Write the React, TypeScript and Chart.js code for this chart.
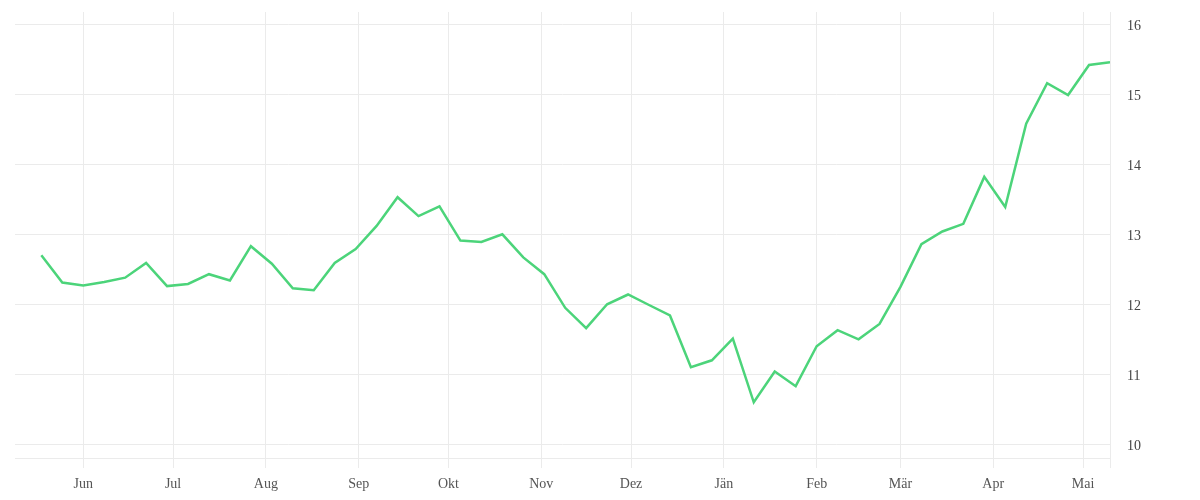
import React, { useEffect, useRef } from "react";
import { Chart, registerables } from "chart.js";

Chart.register(...registerables);

// Weekly observation dates
const dates: string[] = [
  "2022-05-18", "2022-05-25", "2022-06-01", "2022-06-08", "2022-06-15", "2022-06-22",
  "2022-06-29", "2022-07-06", "2022-07-13", "2022-07-20", "2022-07-27", "2022-08-03",
  "2022-08-10", "2022-08-17", "2022-08-24", "2022-08-31", "2022-09-07", "2022-09-14",
  "2022-09-21", "2022-09-28", "2022-10-05", "2022-10-12", "2022-10-19", "2022-10-26",
  "2022-11-02", "2022-11-09", "2022-11-16", "2022-11-23", "2022-11-30", "2022-12-07",
  "2022-12-14", "2022-12-21", "2022-12-28", "2023-01-04", "2023-01-11", "2023-01-18",
  "2023-01-25", "2023-02-01", "2023-02-08", "2023-02-15", "2023-02-22", "2023-03-01",
  "2023-03-08", "2023-03-15", "2023-03-22", "2023-03-29", "2023-04-05", "2023-04-12",
  "2023-04-19", "2023-04-26", "2023-05-03", "2023-05-10",
];

// Series values
const values: number[] = [
  12.70, 12.31, 12.27, 12.32, 12.38, 12.59, 12.26, 12.29, 12.43, 12.34,
  12.83, 12.58, 12.23, 12.20, 12.59, 12.79, 13.12, 13.53, 13.26, 13.40,
  12.91, 12.89, 13.00, 12.67, 12.43, 11.95, 11.66, 12.00, 12.14, 11.99,
  11.84, 11.10, 11.20, 11.51, 10.60, 11.04, 10.83, 11.40, 11.63, 11.50,
  11.72, 12.25, 12.86, 13.04, 13.15, 13.82, 13.39, 14.58, 15.16, 14.99,
  15.42, 15.46,
];

// X-axis month ticks
const monthTickDates: string[] = [
  "2022-06-01", "2022-07-01", "2022-08-01", "2022-09-01", "2022-10-01", "2022-11-01",
  "2022-12-01", "2023-01-01", "2023-02-01", "2023-03-01", "2023-04-01", "2023-05-01",
];
const monthTickLabels: string[] = [
  "Jun", "Jul", "Aug", "Sep", "Okt", "Nov", "Dez", "Jän", "Feb", "Mär", "Apr", "Mai",
];

// Y-axis ticks
const yTicks: number[] = [10, 11, 12, 13, 14, 15, 16];

const DAY = 86400000;
const toDay = (s: string) => Date.parse(s + "T00:00:00Z") / DAY;

export default function App() {
  const ref = useRef<HTMLCanvasElement | null>(null);

  useEffect(() => {
    if (!ref.current) return;
    const points = dates.map((d, i) => ({ x: toDay(d), y: values[i] }));
    const monthDays = monthTickDates.map(toDay);
    const xMin = points[0].x - 8.8;
    const xMax = points[points.length - 1].x;
    const gridColor = "#ebebeb";
    const font = { family: "'Liberation Serif', serif", size: 14 };

    const chart = new Chart(ref.current, {
      type: "line",
      data: {
        datasets: [
          {
            data: points,
            borderColor: "#4cd47a",
            borderWidth: 2.5,
            pointRadius: 0,
            pointHoverRadius: 0,
            tension: 0,
            fill: false,
          },
        ],
      },
      options: {
        animation: false,
        responsive: true,
        maintainAspectRatio: false,
        layout: { padding: { left: 7, top: 4, right: 0, bottom: 0 } },
        plugins: { legend: { display: false }, tooltip: { enabled: false } },
        scales: {
          x: {
            type: "linear",
            min: xMin,
            max: xMax,
            afterBuildTicks: (scale: any) => {
              scale.ticks = [...monthDays, xMax].map((v) => ({ value: v }));
            },
            afterFit: (scale: any) => {
              scale.height = 34;
              scale.paddingLeft = 0;
              scale.paddingRight = 0;
            },
            grid: { color: gridColor, tickLength: 10, drawTicks: true },
            border: { display: true, color: gridColor },
            ticks: {
              autoSkip: false,
              maxRotation: 0,
              padding: 8,
              color: "#555",
              font,
              callback: (v: any) => {
                const i = monthDays.indexOf(Number(v));
                return i >= 0 ? monthTickLabels[i] : "";
              },
            },
          },
          y: {
            type: "linear",
            position: "right",
            min: 9.804,
            max: 16.176,
            afterBuildTicks: (scale: any) => {
              scale.ticks = yTicks.map((v) => ({ value: v }));
            },
            afterFit: (scale: any) => {
              scale.width = 82;
              scale.paddingTop = 0;
              scale.paddingBottom = 0;
            },
            grid: { color: gridColor, drawTicks: false },
            border: { display: true, color: gridColor },
            ticks: {
              padding: 17,
              labelOffset: 2,
              color: "#444",
              font,
              callback: (v: any) => String(v),
            },
          },
        },
      },
    });
    return () => chart.destroy();
  }, []);

  return (
    <div style={{ width: 1184, height: 484, position: "relative" }}>
      <canvas ref={ref} />
    </div>
  );
}
